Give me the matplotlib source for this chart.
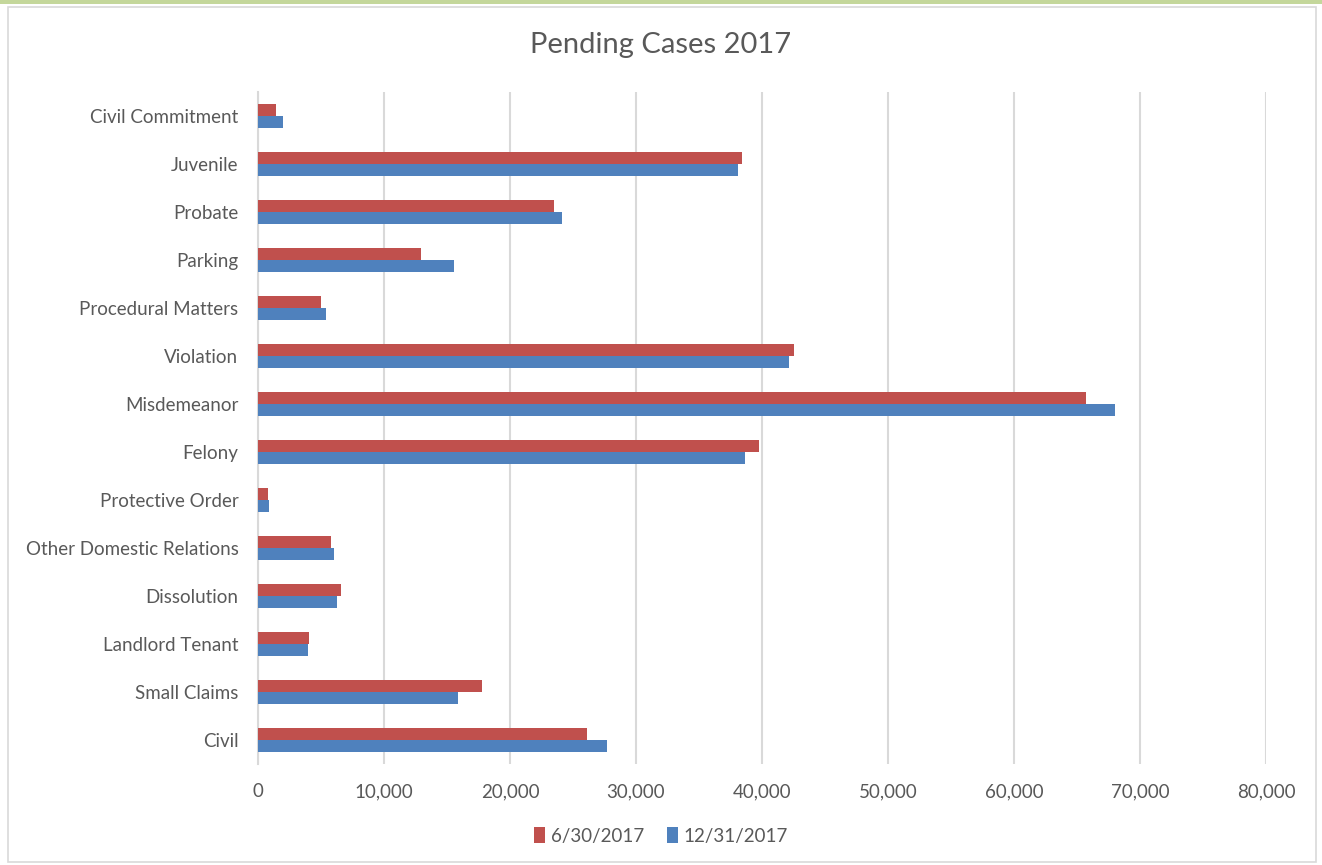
import matplotlib
matplotlib.use("Agg")
import matplotlib.pyplot as plt
import numpy as np
from matplotlib.patches import Rectangle

# categories listed bottom to top
categories = ["Civil", "Small Claims", "Landlord Tenant", "Dissolution",
              "Other Domestic Relations", "Protective Order", "Felony",
              "Misdemeanor", "Violation", "Procedural Matters", "Parking",
              "Probate", "Juvenile", "Civil Commitment"]
june = [26120, 17770, 4010, 6620, 5770, 790, 39760,
        65730, 42540, 4980, 12910, 23490, 38420, 1440]
december = [27730, 15880, 3950, 6260, 6010, 910, 38670,
            68050, 42130, 5370, 15520, 24140, 38060, 1970]
series_names = ["6/30/2017", "12/31/2017"]
xticks = [0, 10000, 20000, 30000, 40000, 50000, 60000, 70000, 80000]

red = "#C0504D"
blue = "#4F81BD"
text_col = "#595959"
grid_col = "#D9D9D9"

plt.rcParams['font.family'] = ['Lato', 'DejaVu Sans']

fig = plt.figure(figsize=(13.22, 8.65), dpi=100)

# green strip at the top and light border round the chart area
fig.patches.append(Rectangle((0, 1 - 4 / 865), 1, 4 / 865, transform=fig.transFigure,
                             facecolor="#C4D79B", edgecolor="none"))
fig.patches.append(Rectangle((8 / 1322, 3 / 865), 1308 / 1322, 855 / 865,
                             transform=fig.transFigure, facecolor="none",
                             edgecolor="#D9D9D9", linewidth=1.2))

ax = fig.add_axes([258 / 1322, 1 - 764 / 865, 1008 / 1322, 672 / 865])

y = np.arange(len(categories))
h = 0.26
ax.barh(y + h / 2, june, height=h, color=red, label=series_names[0], zorder=3)
ax.barh(y - h / 2, december, height=h, color=blue, label=series_names[1], zorder=3)

ax.set_xlim(0, 80000)
ax.set_ylim(-0.5, len(categories) - 0.5)
ax.set_xticks(xticks)
ax.set_xticklabels([f"{v:,}" for v in xticks])
ax.set_yticks(y)
ax.set_yticklabels(categories)

ax.xaxis.grid(True, color=grid_col, linewidth=1.5, zorder=0)
ax.set_axisbelow(True)
for s in ["top", "right", "bottom"]:
    ax.spines[s].set_visible(False)
ax.spines["left"].set_color(grid_col)
ax.spines["left"].set_linewidth(1.5)
ax.tick_params(axis="both", length=0, labelsize=13.5, colors=text_col)
ax.tick_params(axis="x", pad=14)
ax.tick_params(axis="y", pad=14)

fig.text(0.5, 1 - 45 / 865, "Pending Cases 2017", ha="center", va="center",
         fontsize=21, color=text_col)

leg = fig.legend(loc="center", bbox_to_anchor=(0.5, 1 - 836 / 865), ncol=2,
                 frameon=False, fontsize=13.5, handlelength=0.6, handleheight=0.9,
                 handletextpad=0.3, columnspacing=1.2)
for t in leg.get_texts():
    t.set_color(text_col)

fig.savefig("out.png", dpi=100)
